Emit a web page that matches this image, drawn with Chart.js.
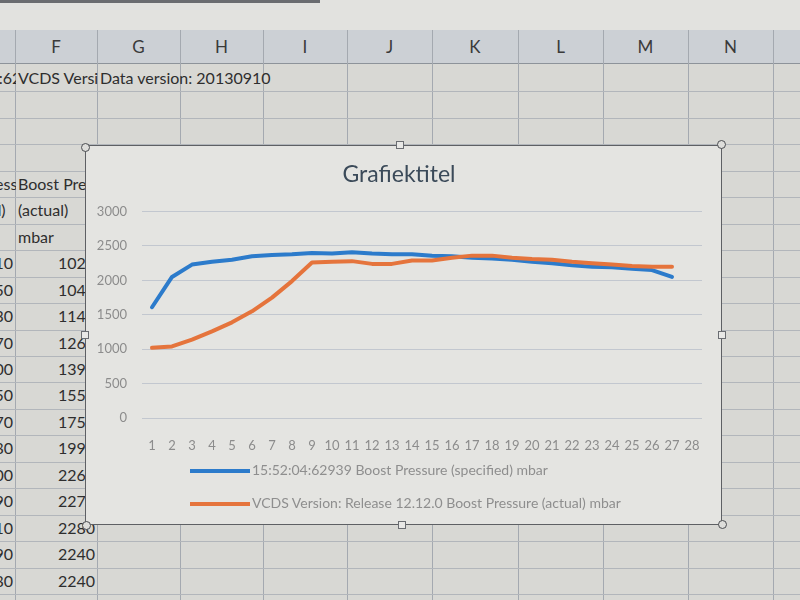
<!DOCTYPE html>
<html lang="nl">
<head>
<meta charset="UTF-8">
<title>Grafiektitel</title>
<script src="https://cdn.jsdelivr.net/npm/chart.js"></script>
<style>
    body { margin: 0; width: 800px; height: 600px; overflow: hidden; background: #d8d8d4; font-family: Lato, "Open Sans", sans-serif; position: relative; }
    #top { position: absolute; left: 0; top: 0; width: 800px; height: 30px; background: #e2e2df; }
    #topline { position: absolute; left: 0; top: 0; width: 320px; height: 3px; background: #6a6c70; }
    #header { position: absolute; left: 0; top: 30px; width: 800px; height: 33px; background: #ccd0d5; border-bottom: 1px solid #8d939a; }
    .vline { position: absolute; top: 30px; width: 1px; height: 570px; background: #a4a9b0; }
    .hline { position: absolute; left: 0; width: 800px; height: 1px; background: #b2b6bb; }
    .col { position: absolute; top: 30px; height: 33px; line-height: 33px; font-size: 17px; color: #3a3a3a; text-align: center; }
    .cell { position: absolute; height: 26px; line-height: 26px; font-size: 16px; color: #2e2e2e; white-space: nowrap; overflow: hidden; }
    #box { position: absolute; left: 85px; top: 145px; width: 637px; height: 380px; background: #e4e4e1; border: 1px solid #5e6064; box-sizing: border-box; }
    #wrap { position: absolute; left: 0; top: 0; width: 635px; height: 378px; }
    #legend { position: absolute; left: 104px; top: 312px; font-size: 14px; color: #8e8e8e; }
    .item { height: 33px; line-height: 24px; white-space: nowrap; }
    .swatch { display: inline-block; width: 60px; height: 4px; vertical-align: middle; margin-right: 2px; }
    .knob { position: absolute; width: 9px; height: 9px; border: 1.5px solid #4a4c50; background: #dededb; border-radius: 50%; box-sizing: border-box; }
    .sq { position: absolute; width: 8px; height: 8px; border: 1px solid #6a6d72; background: #e8e8e6; box-sizing: border-box; }
</style>
</head>
<body>
<div id="top"></div>
<div id="topline"></div>
<div id="header"></div>
<div id="sheet"></div>
<div id="box">
    <div id="wrap"><canvas id="canvas"></canvas></div>
    <div id="legend"></div>
</div>
<div id="handles"></div>
<script>
    const categories = ['1', '2', '3', '4', '5', '6', '7', '8', '9', '10', '11', '12', '13', '14',
        '15', '16', '17', '18', '19', '20', '21', '22', '23', '24', '25', '26', '27', '28'];
    const specifiedMbar = [1610, 2050, 2230, 2270, 2300, 2350, 2370, 2380, 2400, 2390, 2410, 2390, 2380, 2380,
        2360, 2350, 2330, 2320, 2300, 2270, 2250, 2220, 2200, 2190, 2170, 2150, 2050];
    const actualMbar = [1020, 1040, 1140, 1260, 1390, 1550, 1750, 1990, 2260, 2270, 2280, 2240, 2240, 2290,
        2290, 2330, 2360, 2360, 2330, 2310, 2300, 2270, 2250, 2230, 2210, 2200, 2200];
    const seriesNames = ['15:52:04:62939 Boost Pressure (specified) mbar',
        'VCDS Version: Release 12.12.0 Boost Pressure (actual) mbar'];
    const seriesColors = ['#2c7bcb', '#e5743c'];
    const yMin = 0, yMax = 3000, yStep = 500;
    const chartTitle = 'Grafiektitel';

    // spreadsheet behind the chart
    const colLetters = ['F', 'G', 'H', 'I', 'J', 'K', 'L', 'M', 'N'];
    const colEdges = [15, 97, 180, 263, 347, 432, 518, 603, 688, 773];
    const rowTop = 65, rowH = 26.45;
    const sheet = document.getElementById('sheet');

    function add(cls, css, text) {
        const d = document.createElement('div');
        d.className = cls;
        Object.assign(d.style, css);
        if (text !== undefined) d.textContent = text;
        sheet.appendChild(d);
        return d;
    }

    colEdges.forEach(x => add('vline', { left: x + 'px' }));
    for (let r = 1; r <= 21; r++) add('hline', { top: (rowTop + r * rowH) + 'px' });
    colLetters.forEach((c, i) => add('col', { left: colEdges[i] + 'px', width: (colEdges[i + 1] - colEdges[i]) + 'px' }, c));

    function cell(col, row, text, right) {
        // col -1 = column E (mostly off screen), 0 = F, 1 = G ...
        const left = col < 0 ? -68 : colEdges[col];
        const right_ = col < 0 ? colEdges[0] : colEdges[col + 1];
        const css = { left: left + 'px', width: (right_ - left - 2) + 'px', top: (rowTop + (row - 1) * rowH) + 'px' };
        if (right) { css.textAlign = 'right'; css.paddingRight = '2px'; css.boxSizing = 'border-box'; css.width = (right_ - left) + 'px'; }
        else { css.paddingLeft = '3px'; }
        return add('cell', css, text);
    }

    cell(-1, 1, '15:52:04:62939');
    cell(0, 1, 'VCDS Version: Release 12.12.0');
    const g1 = cell(1, 1, 'Data version: 20130910');
    g1.style.overflow = 'visible';
    cell(-1, 5, 'Boost Pressure'); cell(0, 5, 'Boost Pressure');
    cell(-1, 6, '(specified)'); cell(0, 6, '(actual)');
    cell(-1, 7, 'mbar'); cell(0, 7, 'mbar');
    for (let i = 0; i < 13; i++) {
        cell(-1, 8 + i, String(specifiedMbar[i]), true);
        cell(0, 8 + i, String(actualMbar[i]), true);
    }

    // chart
    const ctx = document.getElementById('canvas').getContext('2d');
    const chart = new Chart(ctx, {
        type: 'line',
        data: {
            labels: categories,
            datasets: [
                { label: seriesNames[0], data: specifiedMbar, borderColor: seriesColors[0], order: 1 },
                { label: seriesNames[1], data: actualMbar, borderColor: seriesColors[1], order: 0 }
            ]
        },
        options: {
            responsive: true,
            maintainAspectRatio: false,
            animation: false,
            layout: { padding: { left: 10, right: 19, top: 0, bottom: 0 } },
            elements: {
                line: { borderWidth: 4, tension: 0, borderCapStyle: 'round', borderJoinStyle: 'round', fill: false },
                point: { radius: 0, hoverRadius: 0 }
            },
            plugins: {
                legend: { display: false },
                tooltip: { enabled: false },
                title: {
                    display: true,
                    text: chartTitle,
                    color: '#3b4a59',
                    font: { family: 'Lato', size: 23, weight: 'normal' },
                    padding: { top: 15, bottom: 23 }
                }
            },
            scales: {
                x: {
                    offset: true,
                    grid: { display: false },
                    border: { display: false },
                    ticks: { color: '#8c8c8c', font: { family: 'Lato', size: 13 }, padding: 12, maxRotation: 0, autoSkip: false },
                    afterFit: s => { s.height = 106; }
                },
                y: {
                    min: yMin,
                    max: yMax,
                    grid: { color: '#c2c7cf', drawTicks: false },
                    border: { display: false },
                    ticks: { stepSize: yStep, color: '#8c8c8c', font: { family: 'Lato', size: 13 }, padding: 15,
                        callback: v => String(v) },
                    afterFit: s => { s.width = 46; }
                }
            }
        }
    });

    // legend stacked on the left, like Excel
    const legend = document.getElementById('legend');
    chart.data.datasets.forEach(ds => {
        const row = document.createElement('div');
        row.className = 'item';
        const sw = document.createElement('span');
        sw.className = 'swatch';
        sw.style.background = ds.borderColor;
        row.appendChild(sw);
        row.appendChild(document.createTextNode(ds.label));
        legend.appendChild(row);
    });

    // selection handles of the chart object
    const handles = document.getElementById('handles');
    [[85, 147], [721, 144], [722, 524], [86, 525]].forEach(p => {
        const k = document.createElement('div');
        k.className = 'knob';
        k.style.left = (p[0] - 4.5) + 'px'; k.style.top = (p[1] - 4.5) + 'px';
        handles.appendChild(k);
    });
    [[400, 145], [722, 335], [402, 525], [85, 335]].forEach(p => {
        const q = document.createElement('div');
        q.className = 'sq';
        q.style.left = (p[0] - 4) + 'px'; q.style.top = (p[1] - 4) + 'px';
        handles.appendChild(q);
    });
</script>
</body>
</html>
